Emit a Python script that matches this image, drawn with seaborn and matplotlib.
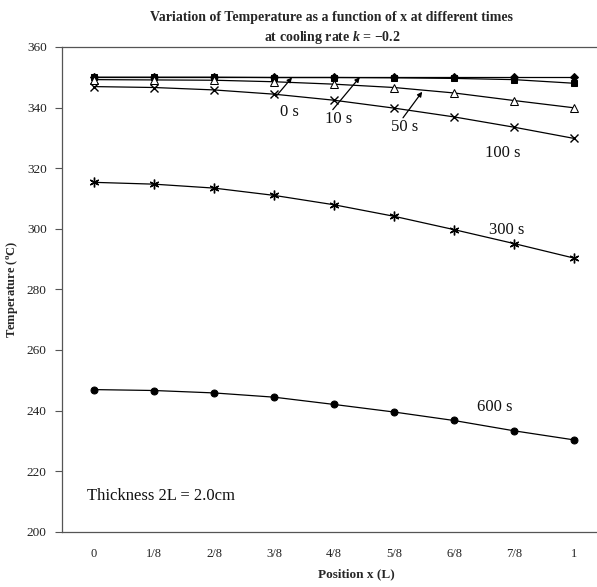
import numpy as np
import pandas as pd
import matplotlib
matplotlib.use("Agg")
import matplotlib.pyplot as plt
import seaborn as sns

# Position along the half-thickness, as fractions of L
positions = ["0", "1/8", "2/8", "3/8", "4/8", "5/8", "6/8", "7/8", "1"]

# Temperature profiles (degC) at each time
t_0s = [350.0, 350.0, 350.0, 350.0, 350.0, 350.0, 350.0, 350.0, 350.0]
t_10s = [350.0, 350.0, 350.0, 349.9, 349.9, 349.8, 349.6, 349.2, 348.0]
t_50s = [349.2, 349.1, 349.0, 348.5, 347.7, 346.6, 344.8, 342.3, 339.9]
t_100s = [346.9, 346.6, 345.8, 344.4, 342.4, 339.8, 336.9, 333.5, 329.8]
t_300s = [315.3, 314.7, 313.4, 311.0, 307.9, 304.1, 299.7, 295.1, 290.3]
t_600s = [246.9, 246.6, 245.8, 244.4, 242.0, 239.5, 236.7, 233.3, 230.3]

times = ["0 s", "10 s", "50 s", "100 s", "300 s", "600 s"]
profiles = [t_0s, t_10s, t_50s, t_100s, t_300s, t_600s]

sns.set_theme(style="white")
plt.rcParams["font.family"] = ["Liberation Serif", "DejaVu Serif"]
plt.rcParams["mathtext.fontset"] = "custom"
plt.rcParams["mathtext.rm"] = "Liberation Serif"
plt.rcParams["mathtext.it"] = "Liberation Serif:italic:bold"
plt.rcParams["mathtext.bf"] = "Liberation Serif:bold"

fig = plt.figure(figsize=(5.97, 5.87), dpi=100)
W, H = 597, 587
ax = fig.add_axes([62 / W, (H - 531.7) / H, (606 - 62) / W, (531.7 - 46.9) / H])

# Long-form table built from the series lists
idx = np.arange(len(positions))
frames = []
for name, vals in zip(times, profiles):
    frames.append(pd.DataFrame({"pos": idx, "temp": vals, "time": name}))
df = pd.concat(frames, ignore_index=True)

marker_style = {
    "0 s": dict(marker="D", markersize=4.2, markerfacecolor="black"),
    "10 s": dict(marker="s", markersize=4.8, markerfacecolor="black"),
    "50 s": dict(marker="^", markersize=5.5, markerfacecolor="white"),
    "100 s": dict(marker="x", markersize=6, markeredgewidth=1.0),
    "300 s": dict(marker=(6, 2, 0), markersize=7, markeredgewidth=1.0),
    "600 s": dict(marker="o", markersize=5, markerfacecolor="black"),
}

for name in times:
    sub = df[df["time"] == name]
    sns.lineplot(data=sub, x="pos", y="temp", ax=ax, color="black",
                 linewidth=0.9, markeredgecolor="black", **marker_style[name])

ax.set_xlim(-0.533, 8.533)
ax.set_ylim(200, 360)
ax.set_yticks(np.arange(200, 361, 20))
ax.set_xticks(idx)
ax.set_xticklabels(positions)
ax.tick_params(axis="x", length=0, pad=12, labelsize=9, colors="#222222")
ax.tick_params(axis="y", length=5, width=0.8, direction="out", left=True,
               pad=6, labelsize=9.5, colors="#222222")
ax.yaxis.set_tick_params(color="#555555")

for side in ["left", "top", "bottom", "right"]:
    ax.spines[side].set_color("#555555")
    ax.spines[side].set_linewidth(0.9)

ax.set_xlabel("")
ax.set_ylabel(r"Temperature ($^{\mathbf{o}}$C)", fontsize=9, fontweight="bold")
ax.yaxis.set_label_coords(-0.078, 0.5)

fig.text(356 / W, 1 - 574 / H, "Position x (L)", ha="center", va="center",
         fontsize=9.5, fontweight="bold")

fig.text(332 / W, 1 - 17 / H,
         "Variation of Temperature as a function of x at different times",
         ha="center", va="center", fontsize=10, fontweight="bold")
fig.text(332 / W, 1 - 37 / H, r"at cooling rate $k$ = $\mathbf{-0.2}$",
         ha="center", va="center", fontsize=10, fontweight="bold")

# Curve labels
label_kw = dict(ha="center", va="center", fontsize=12, color="#111111")
ax.text(3.25, 338.5, "0 s", **label_kw)
ax.text(4.08, 336.2, "10 s", **label_kw)
ax.text(5.18, 333.4, "50 s", **label_kw)
ax.text(6.82, 325.0, "100 s", **label_kw)
ax.text(6.88, 299.5, "300 s", **label_kw)
ax.text(6.68, 241.1, "600 s", **label_kw)

arrow_kw = dict(arrowstyle="-|>", color="black", lw=0.9,
                mutation_scale=7, shrinkA=0, shrinkB=0)
ax.annotate("", xy=(3.30, 349.9), xytext=(3.03, 343.6), arrowprops=arrow_kw)
ax.annotate("", xy=(4.43, 350.0), xytext=(3.98, 339.3), arrowprops=arrow_kw)
ax.annotate("", xy=(5.47, 345.2), xytext=(5.15, 336.6), arrowprops=arrow_kw)

ax.text(-0.117, 211.8, "Thickness 2L = 2.0cm", ha="left", va="center",
        fontsize=12, color="#111111")

fig.savefig("out.png", dpi=100)
